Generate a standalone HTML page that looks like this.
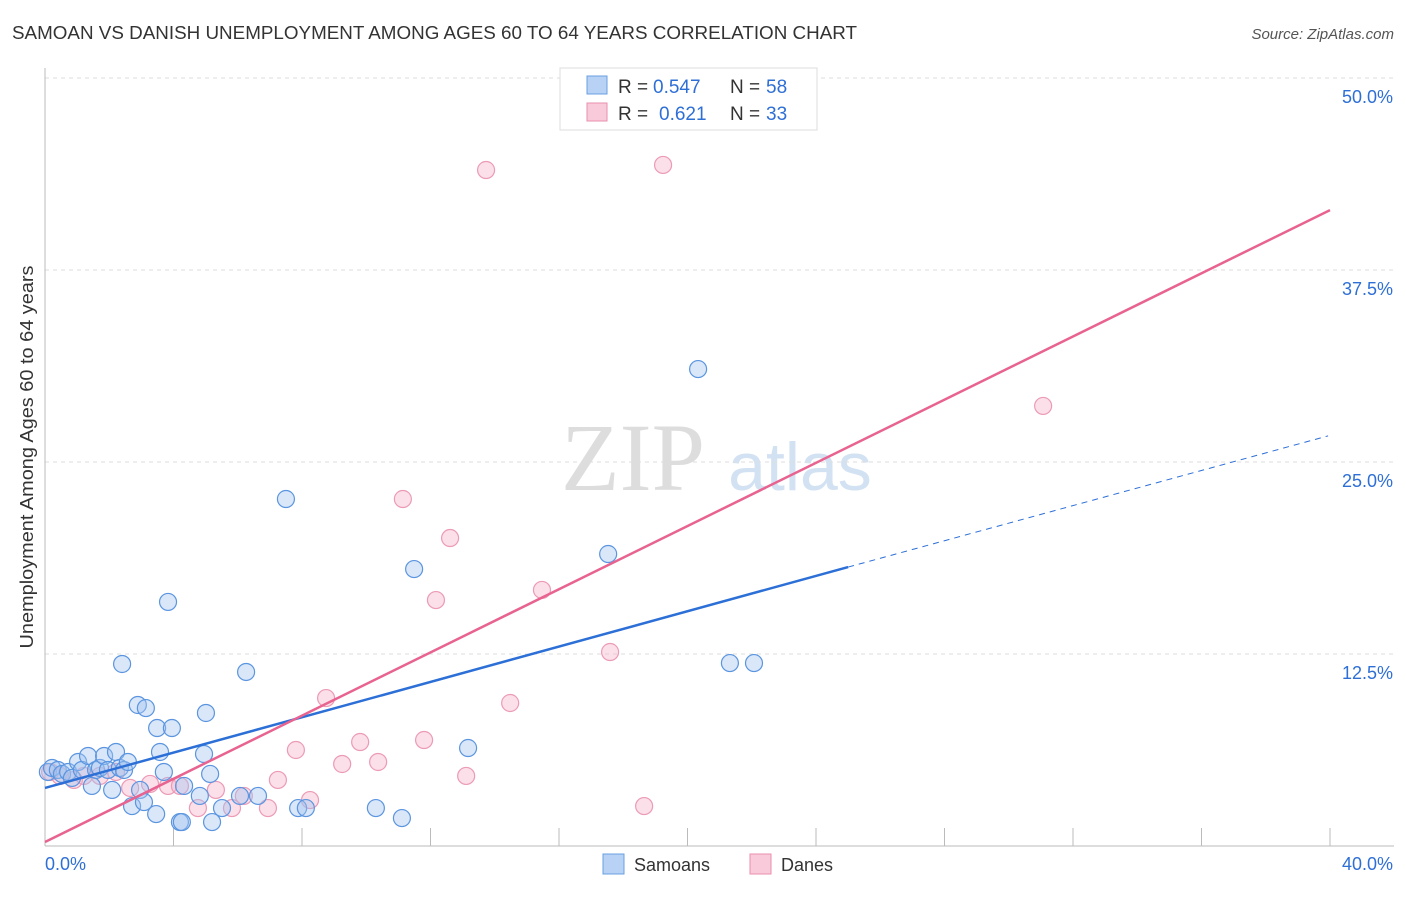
<!DOCTYPE html>
<html><head><meta charset="utf-8"><style>
body{margin:0;background:#fff;font-family:"Liberation Sans",sans-serif;}
svg text{font-family:"Liberation Sans",sans-serif;}
</style></head><body>
<svg id="chart" width="1406" height="892" xmlns="http://www.w3.org/2000/svg">
<text x="12" y="39" font-size="18" fill="#333" textLength="845" lengthAdjust="spacingAndGlyphs">SAMOAN VS DANISH UNEMPLOYMENT AMONG AGES 60 TO 64 YEARS CORRELATION CHART</text>
<text x="1394" y="39" font-size="15" fill="#555" text-anchor="end" font-style="italic">Source: ZipAtlas.com</text>
<text transform="translate(33,457) rotate(-90)" font-size="18" fill="#333" text-anchor="middle" textLength="383" lengthAdjust="spacingAndGlyphs">Unemployment Among Ages 60 to 64 years</text>
<g>
<text x="633" y="490" font-size="96" fill="#ddd" font-family="Liberation Serif" text-anchor="middle" style="font-family:'Liberation Serif',serif">ZIP</text>
<text x="800" y="490" font-size="68" fill="#d3e2f3" text-anchor="middle">atlas</text>
</g>
<g id="grid"></g><g id="axes"></g><g id="marks"></g>
<g>
<rect x="560" y="68" width="257" height="62" fill="#fff" stroke="#ddd"/>
<rect x="587" y="76" width="20" height="18" fill="#b7d2f5" stroke="#6a9fe0"/>
<rect x="587" y="103" width="20" height="18" fill="#f9cad9" stroke="#ea8fae"/>
<text x="618" y="93" font-size="19" fill="#333">R =</text>
<text x="653" y="93" font-size="19" fill="#2e6fd6">0.547</text>
<text x="730" y="93" font-size="19" fill="#333">N =</text>
<text x="766" y="93" font-size="19" fill="#2e6fd6">58</text>
<text x="618" y="120" font-size="19" fill="#333">R =</text>
<text x="659" y="120" font-size="19" fill="#2e6fd6">0.621</text>
<text x="730" y="120" font-size="19" fill="#333">N =</text>
<text x="766" y="120" font-size="19" fill="#2e6fd6">33</text>
</g>
<g>
<rect x="603" y="854" width="21" height="20" fill="#b7d2f5" stroke="#6a9fe0"/>
<text x="634" y="871" font-size="18" fill="#333">Samoans</text>
<rect x="750" y="854" width="21" height="20" fill="#f9cad9" stroke="#ea8fae"/>
<text x="781" y="871" font-size="18" fill="#333">Danes</text>
</g>
</svg>
<script>
const yTicks=[12.5,25,37.5,50];
const yTickLabels=["12.5%","25.0%","37.5%","50.0%"];
const xTickCount=10;
const samoanX=[0.09,0.22,0.40,0.53,0.72,0.84,1.03,1.15,1.34,1.46,1.59,1.71,1.84,1.96,2.09,2.21,2.33,2.46,2.58,2.40,2.71,2.89,2.96,3.08,3.14,3.46,3.49,3.58,3.70,3.83,3.95,4.20,4.26,4.33,4.82,4.95,5.01,5.14,5.20,5.51,6.07,6.26,6.63,7.50,7.88,8.12,10.30,11.11,11.49,13.17,17.53,20.33,21.32,22.07];
const samoanY=[4.82,5.08,4.95,4.69,4.82,4.43,5.47,4.95,5.86,3.91,4.95,5.08,5.86,4.95,3.65,6.12,5.08,4.95,5.47,11.85,2.60,9.18,3.65,2.86,8.98,2.08,7.68,6.12,4.82,15.89,7.68,1.56,1.56,3.91,3.26,5.99,8.66,4.69,1.56,2.47,3.26,11.33,3.26,22.59,2.47,2.47,2.47,1.82,18.03,6.38,19.01,31.05,11.91,11.91];
const daneX=[0.16,0.47,0.90,1.21,1.71,2.21,2.65,3.27,3.83,4.20,4.76,5.32,5.82,6.19,6.94,7.25,7.81,8.25,8.75,9.25,9.81,10.37,11.14,11.80,12.17,12.61,13.11,13.73,14.48,15.47,17.59,18.65,19.24,31.07];
const daneY=[4.82,4.56,4.30,4.56,4.56,4.82,3.78,4.04,3.91,3.91,2.47,3.65,2.47,3.26,2.47,4.30,6.25,2.99,9.63,5.34,6.77,5.47,22.59,6.90,16.01,20.05,4.56,44.01,9.31,16.67,12.63,2.60,44.34,28.65];
const samoanLineX=[0,25,39.94];
const samoanLineY=[3.78,18.16,26.7];
const daneLineX=[0,40];
const daneLineY=[0.26,41.4];
const X=v=>45+v/40*1285, Y=v=>846-v/50*768;
const NS="http://www.w3.org/2000/svg";
function mk(t,a,p){const e=document.createElementNS(NS,t);for(const k in a)e.setAttribute(k,a[k]);p.appendChild(e);return e;}
const grid=document.getElementById('grid'),axes=document.getElementById('axes'),marks=document.getElementById('marks');
yTicks.forEach((t,i)=>{
 const l=mk('line',{x1:45,x2:1394,y1:Y(t),y2:Y(t),stroke:'#ddd','stroke-dasharray':'4,4'},grid);
 
 
 const tx=mk('text',{x:1393,y:Y(t)+25,'font-size':18,fill:'#2e6fd6','text-anchor':'end'},grid);
 tx.textContent=yTickLabels[i];
 
 
});
let a=mk('line',{x1:45,x2:45,y1:68,y2:846,stroke:'#bbb'},axes);


a=mk('line',{x1:45,x2:1394,y1:846,y2:846,stroke:'#bbb'},axes);


for(let i=1;i<=xTickCount;i++){const x=X(i*4);const t=mk('line',{x1:x,x2:x,y1:828,y2:846,stroke:'#bbb'},axes);
 
 }
let xl=mk('text',{x:45,y:870,'font-size':18,fill:'#2e6fd6'},axes);xl.textContent='0.0%';


xl=mk('text',{x:1393,y:870,'font-size':18,fill:'#2e6fd6','text-anchor':'end'},axes);xl.textContent='40.0%';


daneX.forEach((v,i)=>{const c=mk('circle',{cx:X(v),cy:Y(daneY[i]),r:8.5,fill:'rgba(246,178,200,0.4)',stroke:'#ec9ab6','stroke-width':1.2},marks);
 
 });
samoanX.forEach((v,i)=>{const c=mk('circle',{cx:X(v),cy:Y(samoanY[i]),r:8.5,fill:'rgba(160,196,240,0.4)',stroke:'#5b95e0','stroke-width':1.2},marks);
 
 });
let ln=mk('line',{x1:X(samoanLineX[0]),y1:Y(samoanLineY[0]),x2:X(samoanLineX[1]),y2:Y(samoanLineY[1]),stroke:'#2c6fd6','stroke-width':2.5},marks);


ln=mk('line',{x1:X(samoanLineX[1]),y1:Y(samoanLineY[1]),x2:X(samoanLineX[2]),y2:Y(samoanLineY[2]),stroke:'#2c6fd6','stroke-width':1,'stroke-dasharray':'6,5'},marks);


ln=mk('line',{x1:X(daneLineX[0]),y1:Y(daneLineY[0]),x2:X(daneLineX[1]),y2:Y(daneLineY[1]),stroke:'#e8638f','stroke-width':2.5},marks);


</script>
</body></html>
